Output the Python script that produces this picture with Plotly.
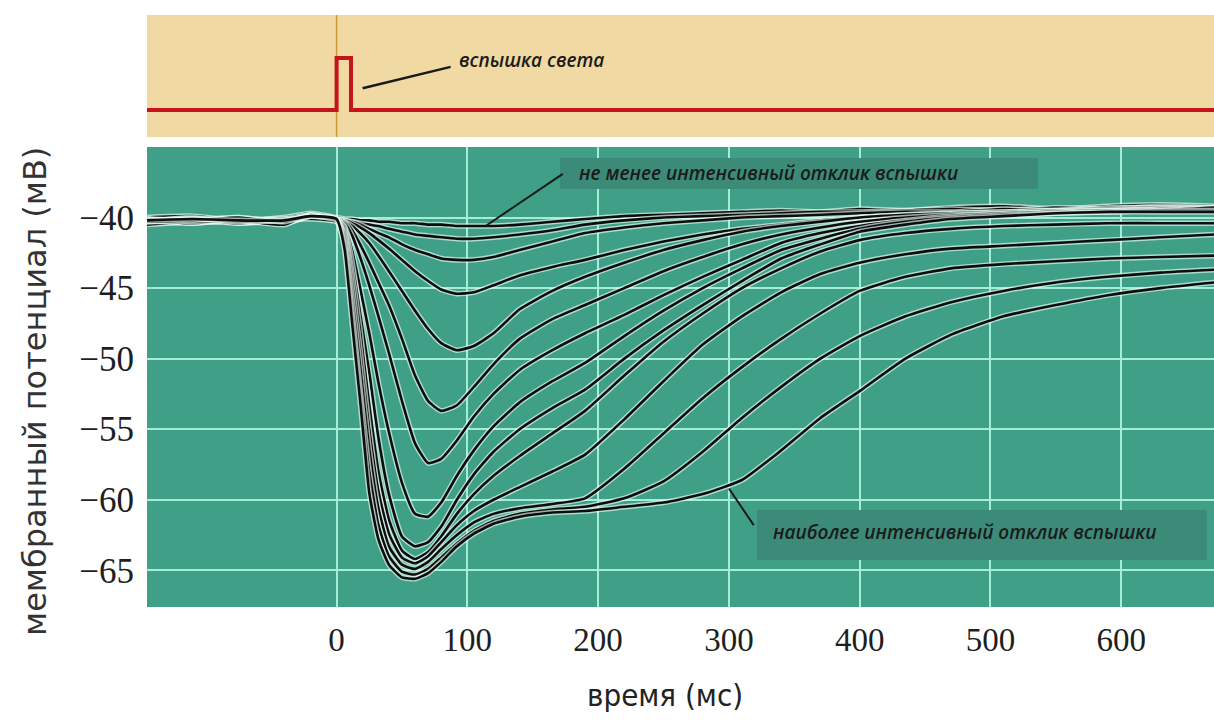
import plotly.graph_objects as go

# ---------------- data ----------------
time_ms = [-145, -110, -75, -40, -20, 0, 6, 12, 18, 25, 32, 40, 50, 60, 70, 80, 92, 105,
           120, 140, 165, 190, 220, 250, 280, 310, 340, 370, 400, 435, 470, 510, 550, 590, 630, 671]

resp_01 = [-40.0, -39.9, -40.2, -40.0, -39.7, -40.0,
           -40.1, -40.1, -40.2, -40.2, -40.3, -40.3, -40.4, -40.4, -40.5, -40.5, -40.6, -40.6, -40.6, -40.5, -40.3, -40.1,
           -39.9, -39.8, -39.7, -39.6, -39.5, -39.6, -39.4, -39.5, -39.3, -39.2, -39.4, -39.2, -39.1, -39.2]
resp_02 = [-40.4, -40.3, -40.1, -40.4, -39.9, -40.2,
           -40.2, -40.3, -40.4, -40.5, -40.6, -40.8, -41.0, -41.2, -41.3, -41.4, -41.5, -41.5, -41.4, -41.2, -40.9, -40.5,
           -40.2, -40.0, -39.9, -39.8, -39.7, -39.6, -39.6, -39.5, -39.4, -39.5, -39.3, -39.4, -39.2, -39.3]
resp_03 = [-40.1, -40.4, -40.2, -40.1, -40.0, -40.2,
           -40.2, -40.3, -40.5, -40.8, -41.1, -41.4, -41.9, -42.3, -42.6, -42.9, -43.0, -43.0, -42.8, -42.3, -41.7, -41.1,
           -40.7, -40.4, -40.2, -40.0, -39.9, -39.8, -39.7, -39.6, -39.6, -39.4, -39.5, -39.3, -39.3, -39.4]
resp_04 = [-40.3, -40.0, -40.4, -40.2, -39.8, -40.1,
           -40.2, -40.4, -40.7, -41.1, -41.6, -42.2, -43.0, -43.8, -44.5, -45.1, -45.4, -45.3, -44.8, -44.1, -43.5, -43.0,
           -42.3, -41.7, -41.2, -40.8, -40.5, -40.2, -40.0, -39.8, -39.7, -39.6, -39.5, -39.4, -39.3, -39.3]
resp_05 = [-40.3, -40.2, -40.0, -40.3, -39.9, -40.2,
           -40.3, -40.6, -41.1, -41.8, -42.7, -43.8, -45.2, -46.6, -47.9, -48.9, -49.4, -49.1, -48.2, -46.5, -45.2, -44.2,
           -43.2, -42.3, -41.6, -41.0, -40.6, -40.3, -40.0, -39.8, -39.7, -39.6, -39.5, -39.5, -39.4, -39.3]
resp_06 = [-40.2, -40.1, -40.3, -40.3, -40.0, -40.1,
           -40.3, -40.9, -41.9, -43.2, -44.6, -46.2, -48.6, -51.2, -53.0, -53.7, -53.3, -52.0, -50.4, -48.6, -47.2, -46.2,
           -45.0, -43.8, -42.8, -41.9, -41.2, -40.7, -40.3, -40.0, -39.8, -39.7, -39.6, -39.5, -39.4, -39.4]
resp_07 = [-40.1, -40.2, -40.4, -40.1, -39.8, -40.2,
           -40.4, -41.3, -42.8, -44.8, -47.0, -49.6, -53.0, -56.0, -57.4, -57.1, -55.8, -54.1, -52.5, -50.8, -49.4, -48.2,
           -46.9, -45.5, -44.2, -43.0, -41.8, -41.1, -40.6, -40.2, -39.9, -39.7, -39.6, -39.5, -39.5, -39.3]
resp_08 = [-40.5, -40.3, -40.2, -40.2, -39.9, -40.1,
           -40.6, -42.4, -45.0, -48.2, -51.7, -55.2, -58.8, -61.0, -61.2, -60.2, -58.3, -56.5, -54.8, -53.1, -51.6, -50.3,
           -48.4, -46.6, -45.0, -43.6, -42.3, -41.5, -40.8, -40.3, -40.0, -39.8, -39.7, -39.6, -39.5, -39.5]
resp_09 = [-40.3, -40.1, -40.2, -40.5, -39.8, -40.2,
           -40.7, -43.2, -46.8, -51.0, -55.6, -59.6, -62.6, -63.3, -63.0, -61.9, -60.0, -58.2, -56.6, -55.0, -53.5, -52.2,
           -50.0, -48.0, -46.2, -44.5, -42.9, -41.9, -41.0, -40.5, -40.1, -39.9, -39.7, -39.6, -39.6, -39.6]
resp_10 = [-40.2, -40.4, -40.1, -40.2, -39.9, -40.2,
           -40.9, -44.0, -48.0, -53.3, -58.0, -61.4, -63.6, -64.2, -63.7, -62.6, -61.0, -59.6, -58.3, -56.9, -55.3, -53.7,
           -51.2, -48.8, -46.8, -45.0, -43.6, -42.4, -41.6, -41.1, -40.8, -40.6, -40.5, -40.4, -40.4, -40.4]
resp_11 = [-40.1, -40.3, -40.2, -40.1, -40.1, -40.3,
           -41.1, -44.8, -49.4, -55.0, -59.4, -62.4, -64.1, -64.5, -64.0, -63.0, -61.8, -60.8, -60.0, -59.1, -58.0, -56.8,
           -54.3, -51.6, -49.0, -47.0, -45.3, -44.0, -43.2, -42.6, -42.2, -42.0, -41.8, -41.6, -41.4, -41.2]
resp_12 = [-40.2, -40.1, -40.3, -40.2, -39.9, -40.1,
           -41.4, -45.8, -50.6, -56.4, -60.6, -63.3, -64.6, -64.9, -64.4, -63.5, -62.5, -61.6, -61.0, -60.6, -60.3, -59.9,
           -57.8, -55.3, -52.8, -50.6, -48.6, -46.8, -45.2, -44.2, -43.6, -43.3, -43.1, -42.9, -42.8, -42.7]
resp_13 = [-40.3, -40.2, -40.0, -40.3, -39.9, -40.2,
           -41.8, -46.8, -52.2, -58.0, -61.8, -64.0, -65.1, -65.3, -64.9, -64.1, -63.1, -62.2, -61.5, -61.0, -60.7, -60.5,
           -59.9, -58.7, -56.6, -54.2, -52.0, -50.0, -48.4, -47.0, -46.0, -45.2, -44.6, -44.2, -43.9, -43.7]
resp_14 = [-40.2, -40.1, -40.2, -40.2, -39.9, -40.1,
           -42.2, -47.6, -53.0, -59.5, -62.8, -64.6, -65.5, -65.6, -65.2, -64.4, -63.3, -62.4, -61.7, -61.2, -60.9, -60.8,
           -60.5, -60.2, -59.6, -58.6, -56.5, -54.2, -52.3, -50.0, -48.3, -47.0, -46.2, -45.5, -45.0, -44.6]

responses = [resp_01, resp_02, resp_03, resp_04, resp_05, resp_06, resp_07,
             resp_08, resp_09, resp_10, resp_11, resp_12, resp_13, resp_14]

stim_t = [-145, 0, 0, 11, 11, 671]
stim_v = [0, 0, 1, 1, 0, 0]

x_ticks = [0, 100, 200, 300, 400, 500, 600]
y_ticks = [-40, -45, -50, -55, -60, -65]

X_RANGE = [-145, 671]
Y_RANGE = [-67.6, -35.0]
S_RANGE = [-0.52, 1.83]

# ---------------- style ----------------
TEAL = "#3f9f87"
GRID = "#a4eed8"
TAN = "#f1d9a3"
BOX = "#3b8b78"
RED = "#c4141c"
TXT = "#1b1b1b"

W, H = 1214, 720
ML, MR, MT, MB = 147, 0, 15, 113
PW, PH = W - ML - MR, H - MT - MB
BOT_TOP, BOT_BOTTOM = 147, 607


def px(xp):
    return (xp - ML) / PW


def py(yp):
    return (H - MB - yp) / PH


def dx(xp):  # pixel -> data x
    return X_RANGE[0] + (xp - ML) / PW * (X_RANGE[1] - X_RANGE[0])


def dy(yp):  # pixel -> data y (bottom panel)
    return Y_RANGE[1] - (yp - BOT_TOP) / (BOT_BOTTOM - BOT_TOP) * (Y_RANGE[1] - Y_RANGE[0])


fig = go.Figure()

for r in responses:
    fig.add_trace(go.Scatter(x=time_ms, y=r, mode="lines", hoverinfo="skip",
                             line=dict(color="rgba(232,252,244,0.65)", width=5.5,
                                       shape="spline", smoothing=0.5)))
    fig.add_trace(go.Scatter(x=time_ms, y=r, mode="lines",
                             line=dict(color="#0d0d0d", width=2.6,
                                       shape="spline", smoothing=0.5)))

fig.add_trace(go.Scatter(x=stim_t, y=stim_v, xaxis="x2", yaxis="y2", mode="lines",
                         line=dict(color=RED, width=4)))

tickfont = dict(family="Liberation Serif", size=35, color="#1e1e1e")

fig.update_layout(
    width=W, height=H,
    margin=dict(l=ML, r=MR, t=MT, b=MB),
    paper_bgcolor="white", plot_bgcolor=TEAL,
    showlegend=False,
    xaxis=dict(domain=[0, 1], range=X_RANGE, anchor="y",
               tickvals=x_ticks, showgrid=True, gridcolor=GRID, gridwidth=2,
               zeroline=False, showline=False, ticks="",
               ticklabelstandoff=10, tickfont=dict(family="Liberation Serif", size=33, color="#1e1e1e")),
    yaxis=dict(domain=[0, py(BOT_TOP)], range=Y_RANGE, anchor="x",
               tickvals=y_ticks, showgrid=True, gridcolor=GRID, gridwidth=2,
               zeroline=False, showline=False, ticks="",
               ticklabelstandoff=12, tickfont=tickfont),
    xaxis2=dict(domain=[0, 1], range=X_RANGE, anchor="y2", visible=False),
    yaxis2=dict(domain=[py(137), 1], range=S_RANGE, anchor="x2", visible=False),
)

shapes = [
    # tan stimulus panel
    dict(type="rect", xref="x2", yref="y2", x0=X_RANGE[0], x1=X_RANGE[1], y0=S_RANGE[0], y1=S_RANGE[1],
         fillcolor=TAN, line=dict(width=0), layer="below"),
    # flash onset marker
    dict(type="line", xref="x2", yref="y2", x0=0, x1=0, y0=S_RANGE[0], y1=S_RANGE[1],
         line=dict(color="#c99a3c", width=1.5), layer="below"),
    # pointer for flash label
    dict(type="line", xref="x2", yref="y2", x0=19.9, y0=0.42, x1=87.2, y1=0.83,
         line=dict(color="#1a1a1a", width=2.5), layer="above"),
    # label boxes
    dict(type="rect", xref="x", yref="y", x0=dx(560), x1=dx(1038), y0=dy(189), y1=dy(158),
         fillcolor=BOX, line=dict(width=0), layer="above"),
    dict(type="rect", xref="x", yref="y", x0=dx(757), x1=dx(1207), y0=dy(560), y1=dy(510),
         fillcolor=BOX, line=dict(width=0), layer="above"),
    # pointers
    dict(type="line", xref="x", yref="y", x0=114, y0=-40.6, x1=173, y1=-36.9,
         line=dict(color="#1a1a1a", width=2), layer="above"),
    dict(type="line", xref="x", yref="y", x0=300, y0=-59.2, x1=319, y1=-61.8,
         line=dict(color="#1a1a1a", width=2), layer="above"),
]
fig.update_layout(shapes=shapes)

labfont = dict(family="Open Sans", size=19, color=TXT, style="italic", weight=600)
annotations = [
    dict(text="вспышка света", xref="paper", yref="paper", x=px(457), y=py(60),
         xanchor="left", yanchor="middle", showarrow=False, font=labfont),
    dict(text="не менее интенсивный отклик вспышки", xref="paper", yref="paper",
         x=px(577), y=py(173), xanchor="left", yanchor="middle", showarrow=False, font=labfont),
    dict(text="наиболее интенсивный отклик вспышки", xref="paper", yref="paper",
         x=px(771), y=py(532), xanchor="left", yanchor="middle", showarrow=False, font=labfont),
    dict(text="время (мс)", xref="paper", yref="paper", x=px(665), y=py(695),
         xanchor="center", yanchor="middle", showarrow=False,
         font=dict(family="DejaVu Sans Condensed", size=31, color="#222222")),
    dict(text="мембранный потенциал (мВ)", xref="paper", yref="paper", x=px(35), y=py(392),
         xanchor="center", yanchor="middle", showarrow=False, textangle=-90,
         font=dict(family="DejaVu Sans", size=32, color="#333333")),
]
fig.update_layout(annotations=annotations)

fig.write_html("out.html", config={"displayModeBar": False},
               post_script="document.body.style.margin='0';")
